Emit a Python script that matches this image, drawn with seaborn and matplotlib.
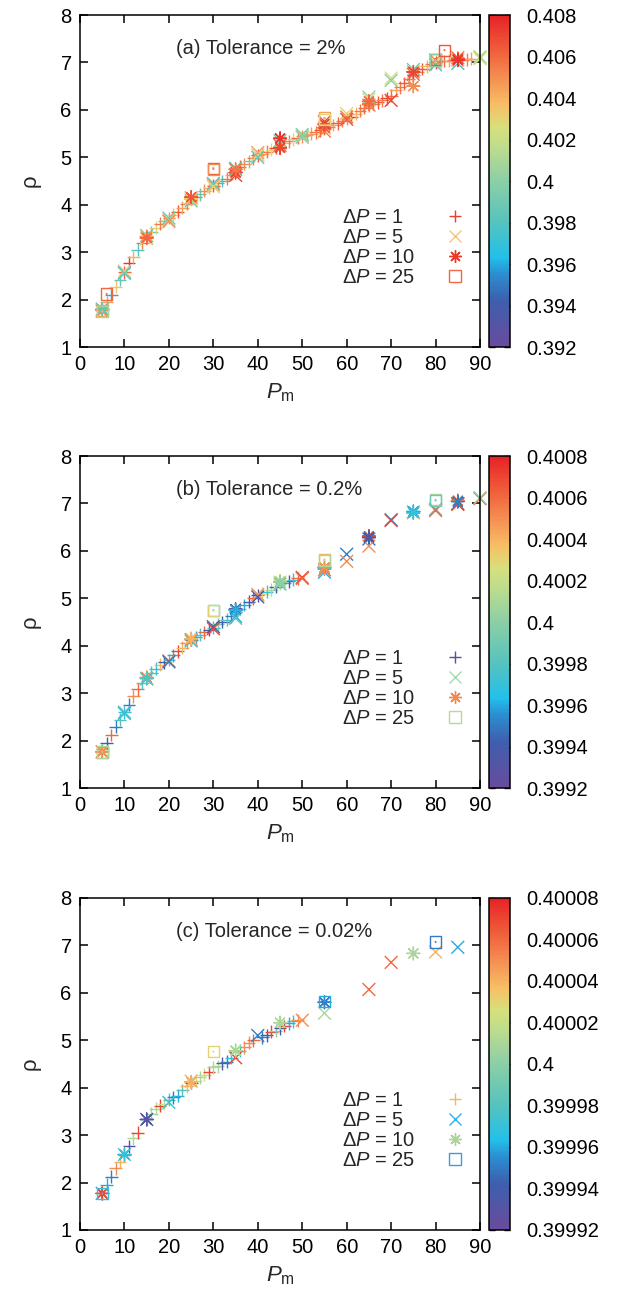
import numpy as np
import pandas as pd
import seaborn as sns
import matplotlib
matplotlib.use("Agg")
import matplotlib.pyplot as plt
from matplotlib.colors import LinearSegmentedColormap, Normalize
from matplotlib.cm import ScalarMappable
from matplotlib.lines import Line2D

# ---------------- data: panel (a), tolerance 2% ----------------
a1_P = [5, 6, 7, 8, 9, 10, 11, 12, 13, 14, 15, 16, 17, 18, 19, 20, 21, 22, 23, 24,
        25, 26, 27, 28, 29, 30, 31, 32, 33, 34, 35, 36, 37, 38, 39, 40, 41, 42, 43, 44,
        45, 46, 47, 48, 49, 50, 51, 52, 53, 54, 55, 56, 57, 58, 59, 60, 61, 62, 63, 64,
        65, 66, 67, 68, 69, 70, 71, 72, 73, 74, 75, 76, 77, 78, 79, 80, 81, 82, 83, 84,
        85, 86, 87, 88]
a1_rho = [1.80, 1.95, 2.10, 2.27, 2.42, 2.58, 2.78, 2.90, 3.05, 3.20,
          3.33, 3.42, 3.52, 3.60, 3.66, 3.72, 3.79, 3.85, 3.94, 4.02,
          4.10, 4.16, 4.22, 4.30, 4.36, 4.40, 4.45, 4.50, 4.55, 4.63,
          4.72, 4.80, 4.86, 4.92, 4.98, 5.04, 5.08, 5.12, 5.16, 5.20,
          5.24, 5.30, 5.34, 5.38, 5.41, 5.44, 5.47, 5.50, 5.53, 5.57,
          5.60, 5.64, 5.68, 5.72, 5.77, 5.82, 5.86, 5.92, 5.98, 6.04,
          6.10, 6.13, 6.16, 6.20, 6.24, 6.30, 6.42, 6.48, 6.56, 6.66,
          6.74, 6.80, 6.86, 6.92, 6.97, 7.00, 7.02, 7.03, 7.04, 7.05,
          7.06, 7.06, 7.07, 7.08]
a1_val = [0.3975, 0.4045, 0.3960, 0.4035, 0.3985, 0.4060, 0.4075, 0.4040, 0.3980, 0.4055,
          0.4045, 0.3985, 0.4030, 0.4055, 0.3990, 0.4050, 0.4035, 0.4065, 0.4045, 0.4055,
          0.4030, 0.4060, 0.3985, 0.4050, 0.4040, 0.4065, 0.4055, 0.3975, 0.4055, 0.4045,
          0.4035, 0.4060, 0.4050, 0.3990, 0.4055, 0.4065, 0.4045, 0.4055, 0.4030, 0.4070,
          0.4055, 0.4040, 0.4055, 0.4020, 0.4060, 0.4050, 0.3990, 0.4045, 0.4055, 0.4065,
          0.4055, 0.4060, 0.4045, 0.4065, 0.4055, 0.4050, 0.4070, 0.4040, 0.4055, 0.4060,
          0.4050, 0.4055, 0.4065, 0.4055, 0.4070, 0.4060, 0.4045, 0.4055, 0.4065, 0.4055,
          0.4060, 0.4050, 0.4065, 0.4040, 0.4055, 0.4070, 0.4055, 0.4060, 0.4045, 0.4055,
          0.4065, 0.4050, 0.4055, 0.4045]

a5_P = [5, 5, 5, 10, 10, 10, 15, 15, 15, 20, 20, 20, 25, 25, 25, 30, 30, 30,
        35, 35, 35, 40, 40, 40, 45, 45, 45, 50, 50, 50, 55, 55, 55, 60, 60, 60,
        65, 65, 65, 70, 70, 70, 75, 75, 75, 80, 80, 80, 85, 85, 85, 90, 90, 90]
a5_rho = [1.77, 1.80, 1.75, 2.57, 2.60, 2.55, 3.30, 3.35, 3.28, 3.68, 3.72, 3.65,
          4.12, 4.15, 4.08, 4.42, 4.45, 4.38, 4.77, 4.74, 4.62, 5.05, 5.10, 5.00,
          5.30, 5.25, 5.35, 5.45, 5.42, 5.48, 5.55, 5.62, 5.75, 5.85, 5.92, 5.80,
          6.27, 6.22, 6.10, 6.67, 6.62, 6.20, 6.80, 6.85, 6.75, 7.00, 6.95, 7.05,
          7.10, 7.05, 6.98, 7.10, 7.08, 7.12]
a5_val = [0.4030, 0.3985, 0.4050, 0.3965, 0.4035, 0.3990, 0.4040, 0.3985, 0.4030,
          0.4035, 0.3990, 0.4050, 0.4030, 0.4040, 0.3990, 0.4045, 0.3985, 0.4030,
          0.3980, 0.3975, 0.4070, 0.4030, 0.4045, 0.3985, 0.4035, 0.4060, 0.3990,
          0.4030, 0.4000, 0.3995, 0.4055, 0.4035, 0.4070, 0.4055, 0.4030, 0.4065,
          0.4005, 0.4020, 0.4055, 0.4025, 0.4000, 0.4070, 0.4040, 0.3990, 0.4060,
          0.4030, 0.3980, 0.4050, 0.4055, 0.4040, 0.3975, 0.4030, 0.4025, 0.4010]

a10_P = [5, 5, 15, 15, 25, 25, 35, 35, 45, 45, 55, 55, 65, 65, 75, 75, 85, 85]
a10_rho = [1.77, 1.80, 3.33, 3.30, 4.12, 4.16, 4.68, 4.75, 5.40, 5.20,
           5.62, 5.70, 6.12, 6.18, 6.80, 6.50, 7.08, 7.05]
a10_val = [0.4050, 0.3985, 0.4045, 0.4060, 0.4035, 0.4065, 0.4070, 0.4055, 0.4075, 0.4070,
           0.4060, 0.4070, 0.4055, 0.4060, 0.4070, 0.4050, 0.4065, 0.4075]

a25_P = [5, 5, 6, 30, 30, 55, 55, 80, 80, 82]
a25_rho = [1.77, 1.75, 2.12, 4.77, 4.75, 5.83, 5.80, 7.07, 7.05, 7.26]
a25_val = [0.4045, 0.4010, 0.4060, 0.4065, 0.4050, 0.4045, 0.4030, 0.4070, 0.4000, 0.4065]

# ---------------- data: panel (b), tolerance 0.2% ----------------
b1_P = [5, 6, 7, 8, 9, 10, 11, 12, 13, 14, 15, 16, 17, 18, 19, 20, 21, 22, 23, 24,
        25, 26, 27, 28, 29, 30, 31, 32, 33, 34, 35, 36, 37, 38, 39, 40, 41, 42, 43, 44,
        45, 46, 47, 48, 49]
b1_rho = [1.82, 1.95, 2.12, 2.29, 2.44, 2.60, 2.76, 2.93, 3.08, 3.22,
          3.33, 3.43, 3.52, 3.60, 3.65, 3.70, 3.80, 3.88, 3.96, 4.06,
          4.13, 4.18, 4.23, 4.28, 4.33, 4.38, 4.45, 4.50, 4.55, 4.62,
          4.72, 4.78, 4.86, 4.93, 5.00, 5.06, 5.10, 5.14, 5.18, 5.24,
          5.30, 5.33, 5.36, 5.39, 5.42]
b1_val = [0.3999, 0.3994, 0.4006, 0.3995, 0.3998, 0.3997, 0.3995, 0.4005, 0.4006, 0.3998,
          0.4004, 0.3998, 0.3997, 0.4004, 0.3994, 0.3998, 0.3996, 0.4007, 0.4004, 0.4005,
          0.3994, 0.3996, 0.3998, 0.4006, 0.3993, 0.3997, 0.3999, 0.3994, 0.3998, 0.3995,
          0.3993, 0.4005, 0.3996, 0.3994, 0.4006, 0.3993, 0.4003, 0.3997, 0.4001, 0.3994,
          0.4002, 0.3996, 0.3993, 0.3997, 0.4006]

b5_P = [5, 5, 10, 10, 15, 15, 20, 20, 25, 25, 30, 30, 35, 35, 40, 40, 45, 45,
        50, 50, 55, 55, 60, 60, 65, 65, 70, 70, 75, 75, 80, 80, 85, 85, 90, 90]
b5_rho = [1.77, 1.76, 2.60, 2.57, 3.32, 3.30, 3.68, 3.66, 4.13, 4.10, 4.40, 4.36,
          4.62, 4.58, 5.08, 5.03, 5.34, 5.30, 5.44, 5.42, 5.60, 5.55, 5.93, 5.78,
          6.25, 6.10, 6.66, 6.64, 6.82, 6.80, 6.88, 6.85, 7.00, 6.98, 7.10, 7.12]
b5_val = [0.4001, 0.4005, 0.3998, 0.3997, 0.4004, 0.3997, 0.4006, 0.3995, 0.4005, 0.3997,
          0.3994, 0.4007, 0.3996, 0.3998, 0.4005, 0.3994, 0.4002, 0.3999, 0.4007, 0.4006,
          0.4006, 0.3996, 0.3995, 0.4005, 0.3995, 0.4005, 0.3996, 0.4007, 0.3997, 0.4004,
          0.3998, 0.4006, 0.3995, 0.4007, 0.4006, 0.4000]

b10_P = [5, 15, 25, 35, 45, 55, 65, 75, 85, 5, 15, 25, 35, 45, 55, 65, 75, 85]
b10_rho = [1.77, 3.33, 4.13, 4.77, 5.36, 5.62, 6.31, 6.83, 7.06,
           1.76, 3.31, 4.15, 4.75, 5.34, 5.65, 6.28, 6.80, 7.04]
b10_val = [0.4001, 0.4005, 0.4005, 0.3993, 0.4002, 0.3997, 0.4007, 0.3996, 0.4005,
           0.4005, 0.3998, 0.4004, 0.3996, 0.4000, 0.4005, 0.3994, 0.3997, 0.3995]

b25_P = [5, 5, 30, 30, 55, 55, 80, 80]
b25_rho = [1.75, 1.76, 4.75, 4.74, 5.82, 5.80, 7.08, 7.06]
b25_val = [0.4005, 0.4001, 0.3998, 0.4003, 0.4004, 0.4001, 0.4001, 0.3999]

# ---------------- data: panel (c), tolerance 0.02% ----------------
c1_P = [5, 6, 7, 8, 9, 10, 11, 12, 13, 15, 16, 17, 18, 19, 20, 21, 22, 23, 24, 25,
        26, 27, 28, 29, 30, 31, 32, 33, 34, 36, 37, 38, 39, 41, 42, 43, 44, 45, 46, 47,
        48, 49]
c1_rho = [1.77, 1.95, 2.12, 2.30, 2.44, 2.58, 2.76, 2.93, 3.05, 3.32,
          3.45, 3.56, 3.62, 3.66, 3.75, 3.80, 3.83, 3.95, 4.03, 4.10,
          4.15, 4.22, 4.27, 4.32, 4.43, 4.45, 4.51, 4.55, 4.63, 4.78,
          4.85, 4.95, 5.00, 5.06, 5.10, 5.18, 5.20, 5.25, 5.30, 5.36,
          5.40, 5.42]
c1_val = [0.39996, 0.39996, 0.39995, 0.40005, 0.40004, 0.39996, 0.39993, 0.40001, 0.40007, 0.40001,
          0.40001, 0.40001, 0.40007, 0.40002, 0.39998, 0.39995, 0.39996, 0.39998, 0.40004, 0.39993,
          0.40003, 0.40001, 0.40002, 0.40007, 0.40001, 0.40001, 0.39993, 0.39995, 0.39997, 0.39997,
          0.40005, 0.40005, 0.40006, 0.39995, 0.39994, 0.40007, 0.40000, 0.39994, 0.40007, 0.39996,
          0.39997, 0.40005]

c5_P = [5, 10, 15, 20, 25, 35, 40, 50, 55, 65, 70, 80, 85]
c5_rho = [1.77, 2.59, 3.33, 3.69, 4.14, 4.63, 5.10, 5.42, 5.57, 6.07, 6.64, 6.86, 6.96]
c5_val = [0.39996, 0.39998, 0.39994, 0.39997, 0.40004, 0.40007, 0.39995, 0.40005,
          0.40001, 0.40006, 0.40006, 0.40004, 0.39996]

c10_P = [5, 10, 15, 25, 35, 45, 55, 75]
c10_rho = [1.77, 2.59, 3.33, 4.12, 4.78, 5.37, 5.80, 6.83]
c10_val = [0.40007, 0.39997, 0.39993, 0.40004, 0.40001, 0.40001, 0.39995, 0.40001]

c25_P = [5, 30, 55, 80]
c25_rho = [1.77, 4.76, 5.82, 7.07]
c25_val = [0.39997, 0.40003, 0.39996, 0.39995]

titles = ["(a) Tolerance = 2%", "(b) Tolerance = 0.2%", "(c) Tolerance = 0.02%"]
cbar_ticks = [
    [0.392, 0.394, 0.396, 0.398, 0.400, 0.402, 0.404, 0.406, 0.408],
    [0.3992, 0.3994, 0.3996, 0.3998, 0.4000, 0.4002, 0.4004, 0.4006, 0.4008],
    [0.39992, 0.39994, 0.39996, 0.39998, 0.40000, 0.40002, 0.40004, 0.40006, 0.40008],
]
legend_labels = ["Δ$P$ = 1", "Δ$P$ = 5", "Δ$P$ = 10", "Δ$P$ = 25"]
legend_colors = [
    ["#e8402c", "#f4c47a", "#e83a2a", "#f06848"],
    ["#5b4b9f", "#a6d9b0", "#f8884a", "#b6db96"],
    ["#f2b95c", "#2ab6e6", "#a8d68e", "#3a9ed8"],
]

panels = [
    [(a1_P, a1_rho, a1_val), (a5_P, a5_rho, a5_val), (a10_P, a10_rho, a10_val), (a25_P, a25_rho, a25_val)],
    [(b1_P, b1_rho, b1_val), (b5_P, b5_rho, b5_val), (b10_P, b10_rho, b10_val), (b25_P, b25_rho, b25_val)],
    [(c1_P, c1_rho, c1_val), (c5_P, c5_rho, c5_val), (c10_P, c10_rho, c10_val), (c25_P, c25_rho, c25_val)],
]

# ---------------- style ----------------
sns.set_theme(style="ticks")
plt.rcParams["font.family"] = ["Liberation Sans", "DejaVu Sans"]
plt.rcParams["mathtext.fontset"] = "custom"
plt.rcParams["mathtext.rm"] = "Liberation Sans"
plt.rcParams["mathtext.it"] = "Liberation Sans:italic"
plt.rcParams["axes.linewidth"] = 1.1

cmap = LinearSegmentedColormap.from_list("gp", [
    (0.00, "#6a4b9c"), (0.14, "#3d5fae"), (0.22, "#2b8fd2"), (0.27, "#22c0ea"),
    (0.38, "#58c3bd"), (0.50, "#8bcfa6"), (0.60, "#bddc8e"), (0.66, "#d6e07c"),
    (0.73, "#f7bf66"), (0.82, "#f48a50"), (0.91, "#ef5637"), (1.00, "#e62227")])

markers = ["+", "x", (8, 2, 0), "s"]
sizes = [85, 85, 85, 65]

fig = plt.figure(figsize=(6.17, 12.94), dpi=100)
bottoms = [0.7318, 0.3910, 0.0495]
FS = 14.5

for k in range(3):
    ax = fig.add_axes([0.1297, bottoms[k], 0.6483, 0.2566])
    cax = fig.add_axes([0.7925, bottoms[k], 0.034, 0.2566])
    ticks = cbar_ticks[k]
    norm = Normalize(vmin=ticks[0], vmax=ticks[-1])

    for j, (P, rho, val) in enumerate(panels[k]):
        df = pd.DataFrame({"P": P, "rho": rho, "val": val})
        n0 = len(ax.collections)
        sns.scatterplot(data=df, x="P", y="rho", hue="val", palette=cmap, hue_norm=norm,
                        marker=markers[j], s=sizes[j], linewidth=1.0, legend=False, ax=ax)
        coll = ax.collections[n0]
        if j == 3:
            fc = coll.get_facecolors()
            coll.set_edgecolors(fc)
            coll.set_facecolors("none")
            sns.scatterplot(data=df, x="P", y="rho", hue="val", palette=cmap, hue_norm=norm,
                            marker="o", s=2, linewidth=0, legend=False, ax=ax)
        for c in ax.collections[n0:]:
            c.set_clip_on(False)

    ax.set_xlim(0, 90)
    ax.set_ylim(1, 8)
    ax.set_xticks([0, 10, 20, 30, 40, 50, 60, 70, 80, 90])
    ax.set_yticks([1, 2, 3, 4, 5, 6, 7, 8])
    ax.tick_params(direction="in", length=6, width=1.1, top=True, right=True,
                   labelsize=FS, colors="black", pad=6)
    for sp in ax.spines.values():
        sp.set_visible(True)
        sp.set_color("black")
    ax.set_xlabel(r"$P_{\mathrm{m}}$", fontsize=16, labelpad=5)
    ax.set_ylabel("ρ", fontsize=16, labelpad=14)
    ax.text(0.24, 0.898, titles[k], transform=ax.transAxes, fontsize=FS,
            va="center", ha="left")

    # legend: left-aligned labels, markers in a separate column on the right
    blank = [Line2D([], [], linestyle="none") for _ in range(4)]
    leg_txt = ax.legend(blank, legend_labels, loc="center left", bbox_to_anchor=(0.655, 0.30),
                        frameon=False, fontsize=FS, handlelength=0, handletextpad=0,
                        labelspacing=0.05, borderpad=0, borderaxespad=0)
    ax.add_artist(leg_txt)
    handles = []
    for j in range(4):
        h = Line2D([], [], linestyle="none", marker=markers[j], markersize=9,
                   markeredgewidth=1.0, color=legend_colors[k][j],
                   markerfacecolor="none" if j == 3 else legend_colors[k][j])
        handles.append(h)
    ax.legend(handles, [" "] * 4, loc="center", bbox_to_anchor=(0.945, 0.30),
              frameon=False, fontsize=FS, handlelength=1.0, handletextpad=0,
              labelspacing=0.05, borderpad=0, borderaxespad=0)

    cb = fig.colorbar(ScalarMappable(norm=norm, cmap=cmap), cax=cax, ticks=ticks)
    cb.ax.set_yticklabels(["%g" % t for t in ticks])
    cb.outline.set_edgecolor("black")
    cb.outline.set_linewidth(1.1)
    cax.tick_params(direction="in", length=4, width=1, left=True, right=True,
                    labelsize=FS, colors="black", pad=12)

fig.savefig("out.png", dpi=100)
